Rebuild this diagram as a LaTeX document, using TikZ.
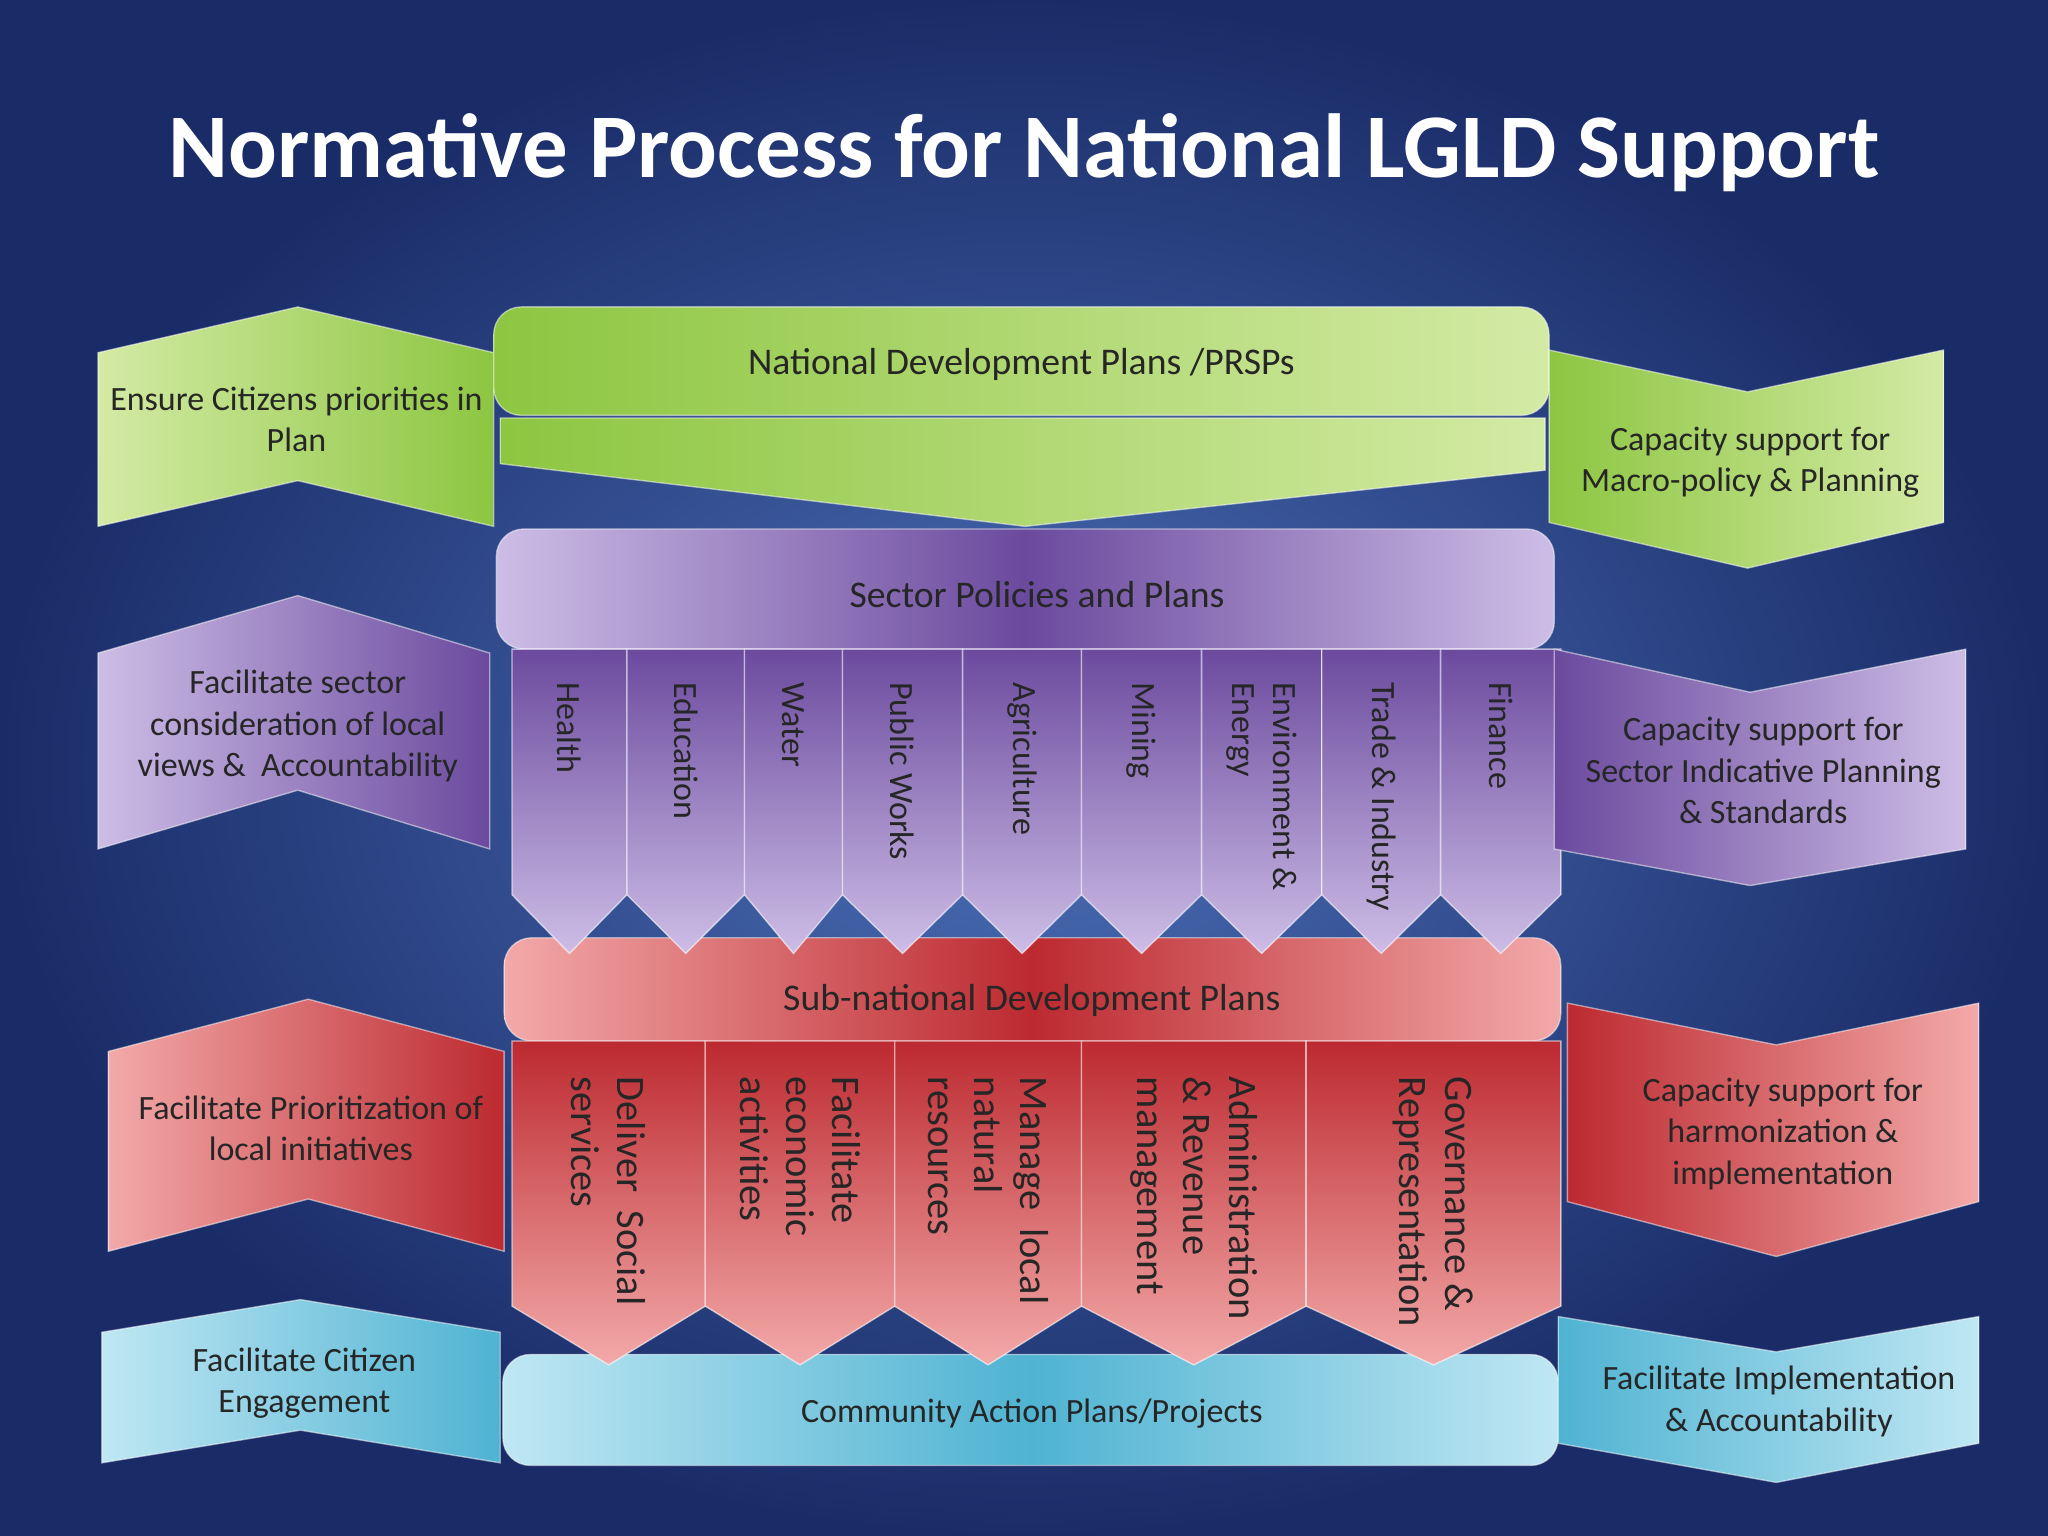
\documentclass[tikz,border=0pt]{standalone}
\usepackage{fontspec}
\setmainfont{Carlito}
\usetikzlibrary{shadings}
\definecolor{bgin}{HTML}{4C70B8}
\definecolor{bgout}{HTML}{1A2C68}
\definecolor{grA}{HTML}{8DC641}\definecolor{grB}{HTML}{D3EAA4}
\definecolor{puA}{HTML}{6B4A9E}\definecolor{puB}{HTML}{CDBDE6}
\definecolor{reA}{HTML}{BC2A30}\definecolor{reB}{HTML}{F3A9A9}
\definecolor{blA}{HTML}{4FB3D2}\definecolor{blB}{HTML}{BFE7F3}
\tikzset{
  band/.style={left color=#1A, right color=#1B, draw=white, draw opacity=0.5, line width=0.3pt},
  bandr/.style={left color=#1B, right color=#1A, draw=white, draw opacity=0.5, line width=0.3pt},
  midb/.style={left color=#1B, right color=#1B, middle color=#1A, draw=white, draw opacity=0.5, line width=0.3pt},
  colm/.style={top color=#1A, bottom color=#1B, draw=white, draw opacity=0.6, line width=0.3pt},
  txt/.style={font=\fontsize{7.4}{9}\selectfont, align=center, text=black!85},
  ctxt/.style={font=\fontsize{7.4}{9}\selectfont, rotate=-90, align=left, text=black!85, anchor=west},
}
\begin{document}
\begin{tikzpicture}[x=0.01cm,y=-0.01cm]
\useasboundingbox (0,0) rectangle (1568,1176);
\shade[inner color=bgin, outer color=bgout] (0,0) rectangle (1568,1176);
\node[font=\fontsize{19.8}{23}\bfseries, text=white] (title) at (784,117) {Normative Process for National LGLD Support};
% bars under the chevrons
\draw[midb=re, rounded corners=6pt] (386,718) rectangle (1195,797);
\node[txt, font=\fontsize{8.2}{10}\selectfont] (sndp) at (790,766) {Sub-national Development Plans};
\draw[midb=bl, rounded corners=6pt] (385,1037) rectangle (1193,1122);
\node[txt] (cap) at (790,1082) {Community Action Plans/Projects};
% green level
\draw[bandr=gr] (75,270) -- (228,235) -- (378,270) -- (378,403) -- (228,368) -- (75,403) -- cycle;
\node[txt] (cit) at (227,321) {Ensure Citizens priorities in\\Plan};
\draw[band=gr, rounded corners=6pt] (378,235) rectangle (1186,318);
\node[txt, font=\fontsize{8.2}{10}\selectfont] (ndp) at (782,279) {National Development Plans /PRSPs};
\draw[band=gr] (383,320) -- (1183,320) -- (1183,360) -- (785,403) -- (383,355) -- cycle;
\draw[band=gr] (1186,268) -- (1338,300) -- (1488,268) -- (1488,400) -- (1338,435) -- (1186,400) -- cycle;
\node[txt] (macro) at (1340,354) {Capacity support for\\Macro-policy \& Planning};
% purple level
\draw[bandr=pu] (75,500) -- (228,456) -- (375,500) -- (375,650) -- (228,605) -- (75,650) -- cycle;
\node[txt] (fac) at (228,556) {Facilitate sector\\consideration of local\\views \&\ \ Accountability};
\draw[midb=pu, rounded corners=6pt] (380,405) rectangle (1190,497);
\node[txt, font=\fontsize{8.2}{10}\selectfont] (spp) at (794,455) {Sector Policies and Plans};
\foreach \l/\r/\t [count=\i] in {392/480/Health, 480/570/Education, 570/645/Water, 645/737/Public Works,
    737/828/Agriculture, 828/920/Mining, 920/1012/{Environment \&\\Energy}, 1012/1103/Trade \& Industry, 1103/1195/Finance}{
  \draw[colm=pu] (\l,497) -- (\r,497) -- (\r,685) -- ({(\l+\r)/2},730) -- (\l,685) -- cycle;
  \node[ctxt] (sec\i) at ({(\l+\r)/2},510) {\t};
}
\draw[band=pu] (1190,497) -- (1340,530) -- (1505,497) -- (1505,650) -- (1340,678) -- (1190,650) -- cycle;
\node[txt] (sip) at (1350,590) {Capacity support for\\Sector Indicative Planning\\\& Standards};
% red level
\draw[bandr=re] (83,805) -- (236,765) -- (386,805) -- (386,958) -- (236,918) -- (83,958) -- cycle;
\node[txt] (prio) at (238,864) {Facilitate Prioritization of\\local initiatives};
\foreach \l/\r/\t [count=\i] in {392/540/{Deliver\ \ Social\\services}, 540/685/{Facilitate\\economic\\activities},
    685/828/{Manage\ \ local\\natural\\resources}, 828/1000/{Administration\\\& Revenue\\management}, 1000/1195/{Governance \&\\Representation}}{
  \draw[colm=re] (\l,797) -- (\r,797) -- (\r,1000) -- ({(\l+\r)/2},1045) -- (\l,1000) -- cycle;
  \node[ctxt, font=\fontsize{8.8}{10}\selectfont] (fn\i) at ({(\l+\r)/2},812) {\t};
}
\draw[band=re] (1200,768) -- (1360,800) -- (1515,768) -- (1515,920) -- (1360,962) -- (1200,920) -- cycle;
\node[txt] (harm) at (1365,868) {Capacity support for\\harmonization \&\\implementation};
% blue level
\draw[bandr=bl] (78,1020) -- (230,995) -- (383,1020) -- (383,1120) -- (230,1095) -- (78,1120) -- cycle;
\node[txt] (eng) at (233,1059) {Facilitate Citizen\\Engagement};
\draw[band=bl] (1193,1008) -- (1360,1035) -- (1515,1008) -- (1515,1105) -- (1360,1135) -- (1193,1105) -- cycle;
\node[txt] (impl) at (1362,1073) {Facilitate Implementation\\\& Accountability};
\end{tikzpicture}
\end{document}
